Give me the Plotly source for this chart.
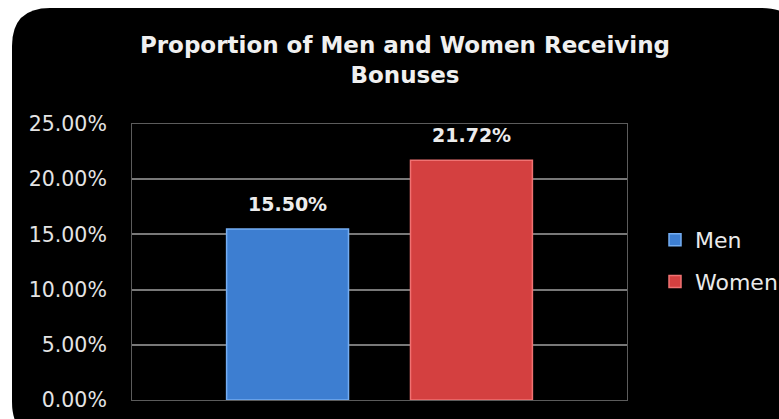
import plotly.graph_objects as go

# ---- data ----
series_names = ["Men", "Women"]
series_values = [15.50, 21.72]
series_colors = ["#3d7ed1", "#d44040"]
series_edges = ["#74adf2", "#f07272"]
category = ["Bonuses"]
y_ticks = [0, 5, 10, 15, 20, 25]
y_tick_labels = ["0.00%", "5.00%", "10.00%", "15.00%", "20.00%", "25.00%"]

# figure geometry (page pixels)
W, H = 779, 419
L, R, T, B = 132, 152, 124, 19
pw, ph = W - L - R, H - T - B


def px(x):  # page pixel -> paper x
    return (x - L) / pw


def py(y):  # page pixel -> paper y
    return (H - B - y) / ph


FONT = "DejaVu Sans"

fig = go.Figure()
for name, val, col, edge in zip(series_names, series_values, series_colors, series_edges):
    fig.add_trace(go.Bar(
        name=name, x=category, y=[val], legendgroup=name,
        marker=dict(color=col, line=dict(color=edge, width=1.5)),
        hoverinfo="name+y",
    ))

# value labels above the bars
BARGAP = 0.257
slot = pw * (1 - BARGAP) / 2
for i, (name, val) in enumerate(zip(series_names, series_values)):
    fig.add_annotation(
        x=category[0], y=val, xref="x", yref="y",
        text=f"<b>{val:.2f}%</b>", showarrow=False,
        xshift=(i - 0.5) * slot, yshift=12, yanchor="bottom",
        font=dict(family=FONT, size=19, color="#ececec"),
    )

# black rounded background panel (decoration)
x0, x1, y0, y1, r = 12, 800, 8, 440, 38
path = (f"M {px(x0)},{py(y0 + r)} Q {px(x0)},{py(y0)} {px(x0 + r)},{py(y0)} "
        f"L {px(x1 - r)},{py(y0)} Q {px(x1)},{py(y0)} {px(x1)},{py(y0 + r)} "
        f"L {px(x1)},{py(y1 - r)} Q {px(x1)},{py(y1)} {px(x1 - r)},{py(y1)} "
        f"L {px(x0 + r)},{py(y1)} Q {px(x0)},{py(y1)} {px(x0)},{py(y1 - r)} Z")
fig.add_shape(type="path", path=path, xref="paper", yref="paper",
              fillcolor="black", line=dict(width=0), layer="below")

fig.update_layout(
    width=W, height=H,
    margin=dict(l=L, r=R, t=T, b=B, autoexpand=False),
    paper_bgcolor="white",
    plot_bgcolor="#404040",
    barmode="group",
    bargap=BARGAP,
    bargroupgap=0.337,
    title=dict(
        text="<b>Proportion of Men and Women Receiving<br>Bonuses</b>",
        x=405 / W, xanchor="center", y=1 - 53 / H, yanchor="top",
        font=dict(family=FONT, size=23, color="#f0f0f0"),
    ),
    showlegend=True,
    legend=dict(
        x=px(655), y=py(219), xanchor="left", yanchor="top",
        font=dict(family=FONT, size=22, color="#eaeaea"),
        bgcolor="rgba(0,0,0,0)", tracegroupgap=10, itemwidth=30,
    ),
    yaxis=dict(
        range=[0, 25], tickvals=y_ticks, ticktext=y_tick_labels,
        tickfont=dict(family=FONT, size=20.5, color="#e4e4e4"),
        gridcolor="#787878", gridwidth=1.5, showline=True, linecolor="#5c5c5c",
        mirror=True, zeroline=False, ticks="", ticklen=0, ticklabelstandoff=20,
        automargin=False,
    ),
    xaxis=dict(showticklabels=False, showline=True, linecolor="#5c5c5c", mirror=True,
               automargin=False),
)

fig.write_html("out.html", config={"displayModeBar": False},
               post_script="document.body.style.margin='0';")
